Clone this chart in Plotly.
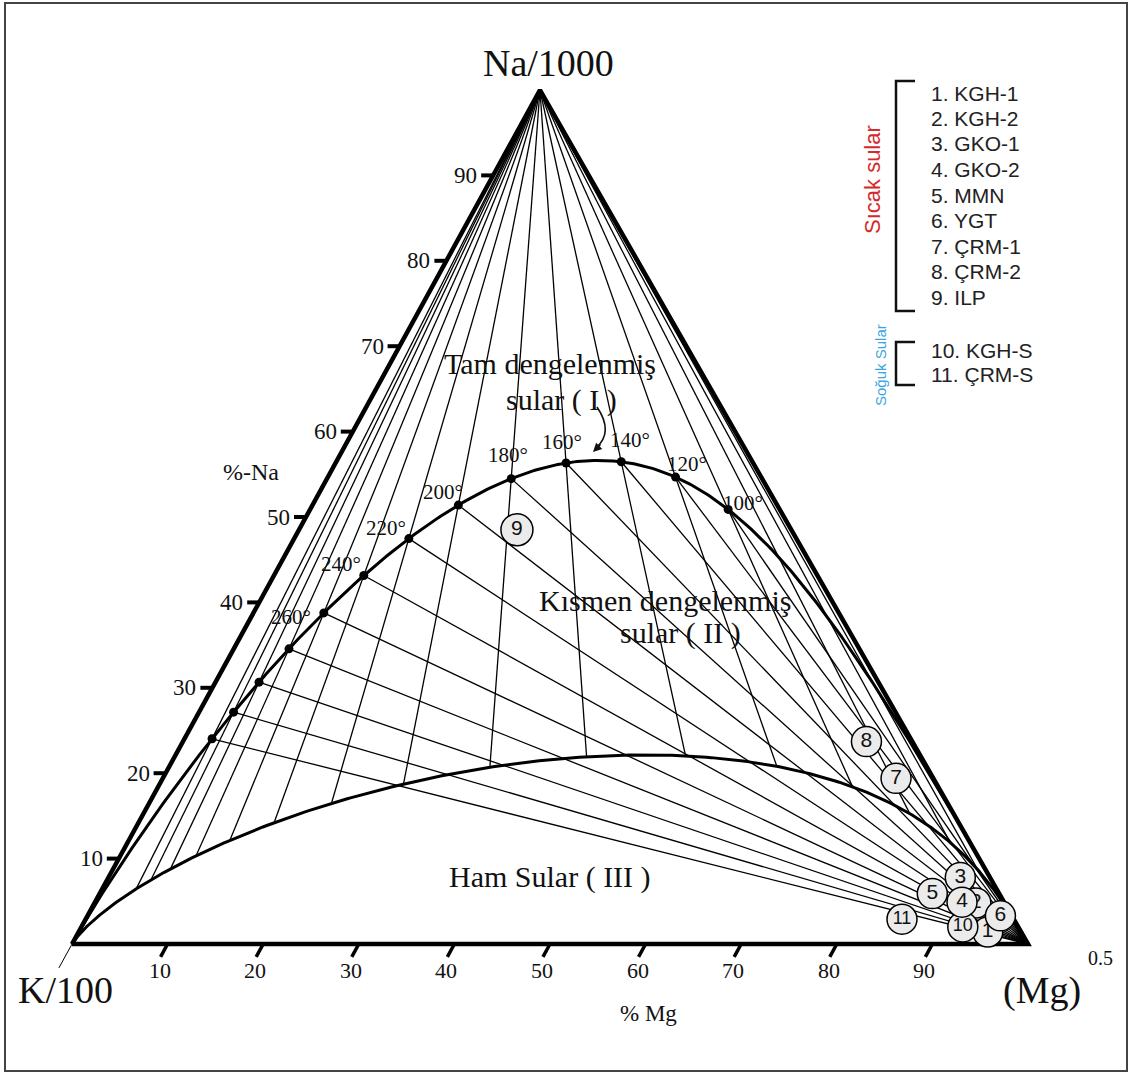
import numpy as np
import plotly.graph_objects as go

W, H = 1131, 1075

# ---------------- data ----------------
eq_temps = [100, 120, 140, 160, 180, 200, 220, 240, 260, 280, 300, 320, 340]
kmg_temps = [40, 60, 80, 100, 120, 140, 160, 180, 200, 220, 240, 260, 280, 300, 320, 340]
label_temps = [100, 120, 140, 160, 180, 200, 220, 240, 260]
label_texts = ["100°", "120°", "140°", "160°", "180°", "200°", "220°", "240°", "260°"]
na_ticks = [10, 20, 30, 40, 50, 60, 70, 80, 90]
mg_ticks = [10, 20, 30, 40, 50, 60, 70, 80, 90]
sample_ids = ["1", "2", "3", "4", "5", "6", "7", "8", "9", "10", "11"]
sample_na = [1.4, 4.8, 7.8, 4.9, 5.9, 3.3, 19.4, 23.7, 48.5, 2.0, 2.9]   # % Na/1000
sample_mg = [95.1, 92.2, 89.1, 90.7, 87.1, 95.5, 76.7, 71.5, 22.8, 92.2, 85.4]  # % Mg^0.5
hot_labels = ["1. KGH-1", "2. KGH-2", "3. GKO-1", "4. GKO-2", "5. MMN",
              "6. YGT", "7. ÇRM-1", "8. ÇRM-2", "9. ILP"]
cold_labels = ["10. KGH-S", "11. ÇRM-S"]

# ---------------- geometry helpers ----------------
APEX = 0.4895          # horizontal position of the Na apex (fraction of base)
SX, SY = 9.56, 8.54    # pixels per axis unit
X0, Y0 = 72, 944       # pixel position of the K corner

SERIF = "Liberation Serif, Times New Roman, serif"
SANS = "Liberation Sans, Arial, sans-serif"


def to_xy(c1, c2, c3):
    s = c1 + c2 + c3
    na = 100.0 * c1 / s
    mg = 100.0 * c3 / s
    return mg + APEX * na, na


def pct_xy(na, mg):
    return mg + APEX * na, na


def full_eq(T):
    TK = T + 273.15
    c1 = 10 ** (1390.0 / TK - 1.75) / 10.0
    c3 = 100.0 / 10 ** ((14.0 - 4410.0 / TK) / 2.0)
    return c1, 1.0, c3


def kmg_r(T):
    TK = T + 273.15
    return 10 ** ((14.0 - 4410.0 / TK) / 2.0) / 100.0


def partial(s):
    return 10 ** (-0.26) * s ** 0.63, 1.0, s


def dx(px):
    return (px - X0) / SX


def dy(py):
    return (Y0 - py) / SY


def pxp(x):
    return x / W


def pyp(y):
    return 1 - y / H


fig = go.Figure()
apex = to_xy(1, 0, 0)
kc = to_xy(0, 1, 0)
mgc = to_xy(0, 0, 1)

# K/Mg isotherms from the Na apex to the partial-equilibrium curve
gx, gy = [], []
for T in kmg_temps:
    e = to_xy(*partial(1.0 / kmg_r(T)))
    gx += [apex[0], e[0], None]
    gy += [apex[1], e[1], None]
# Na/K isotherms from the full-equilibrium point to the Mg corner
for T in eq_temps:
    p = to_xy(*full_eq(T))
    gx += [p[0], mgc[0], None]
    gy += [p[1], mgc[1], None]
fig.add_trace(go.Scatter(x=gx, y=gy, mode="lines", line=dict(color="#000", width=1.3),
                         hoverinfo="skip"))

# partial equilibrium curve
s = np.geomspace(1e-6, 1e6, 900)
px_, py_ = to_xy(*partial(s))
fig.add_trace(go.Scatter(x=np.concatenate([[kc[0]], px_, [mgc[0]]]),
                         y=np.concatenate([[kc[1]], py_, [mgc[1]]]),
                         mode="lines", line=dict(color="#000", width=3), hoverinfo="skip"))

# full equilibrium curve
Tc = np.concatenate([np.linspace(0, 400, 401), np.geomspace(401, 20000, 300)])
fx, fy = to_xy(*full_eq(Tc))
fig.add_trace(go.Scatter(x=np.concatenate([fx, [kc[0]]]), y=np.concatenate([fy, [kc[1]]]),
                         mode="lines", line=dict(color="#000", width=3), hoverinfo="skip"))

# triangle
fig.add_trace(go.Scatter(x=[kc[0], mgc[0], apex[0], kc[0]], y=[kc[1], mgc[1], apex[1], kc[1]],
                         mode="lines", line=dict(color="#000", width=4.5), hoverinfo="skip"))
# thin extension below K corner
fig.add_trace(go.Scatter(x=[kc[0], kc[0] - APEX * 2.8], y=[kc[1], kc[1] - 2.8], mode="lines",
                         line=dict(color="#000", width=1), hoverinfo="skip"))

# ticks
tx, ty = [], []
for v in na_ticks:
    ex, ey = pct_xy(v, 0)
    tx += [ex, ex - 12 / SX, None]
    ty += [ey, ey, None]
fig.add_trace(go.Scatter(x=tx, y=ty, mode="lines", line=dict(color="#000", width=4),
                         hoverinfo="skip"))
tx, ty = [], []
for v in mg_ticks:
    bx, by = pct_xy(0, v)
    tx += [bx, bx - APEX * 1.5, None]
    ty += [by, by - 1.5, None]
fig.add_trace(go.Scatter(x=tx, y=ty, mode="lines", line=dict(color="#000", width=3.5),
                         hoverinfo="skip"))

# equilibrium dots
dxs, dys = [], []
for T in eq_temps:
    p = to_xy(*full_eq(T))
    dxs.append(p[0]); dys.append(p[1])
fig.add_trace(go.Scatter(x=dxs, y=dys, mode="markers", marker=dict(color="#000", size=9),
                         hoverinfo="skip"))

# samples (one trace each so that overlaps stack correctly)
order = ["2", "1", "10", "11", "5", "3", "4", "6", "7", "8", "9"]
for sid in order:
    i = sample_ids.index(sid)
    x, y = pct_xy(sample_na[i], sample_mg[i])
    big = sid == "9"
    fig.add_trace(go.Scatter(
        x=[x], y=[y], mode="markers+text", text=[sid], textposition="middle center",
        textfont=dict(family=SANS, size=18 if len(sid) > 1 else 21, color="#111"),
        marker=dict(size=32 if big else 30, color="#ebebeb", line=dict(color="#000", width=1.5)),
        hoverinfo="skip"))

ann = []


def A(text, x, y, size, family=SERIF, color="#111", xanchor="center", **kw):
    ann.append(dict(text=text, x=pxp(x), y=pyp(y), xref="paper", yref="paper",
                    showarrow=False, xanchor=xanchor, yanchor="middle",
                    font=dict(family=family, size=size, color=color), **kw))


# temperature labels (offsets from their dots, pixels)
lab_off = [(15, -6), (11, -13), (9, -22), (-4, -21), (-3, -24), (-15, -13), (-23, -11),
           (-23, -12), (-33, 4)]
for T, t, (ox, oy) in zip(label_temps, label_texts, lab_off):
    p = to_xy(*full_eq(T))
    ann.append(dict(text=t, x=p[0], y=p[1], xref="x", yref="y", showarrow=False,
                    xshift=ox, yshift=-oy, font=dict(family=SERIF, size=21, color="#111")))

# axis tick labels
for v in na_ticks:
    ex, ey = pct_xy(v, 0)
    ann.append(dict(text=str(v), x=ex, y=ey, xref="x", yref="y", showarrow=False,
                    xanchor="right", xshift=-14, font=dict(family=SERIF, size=23, color="#111")))
for v in mg_ticks:
    bx, by = pct_xy(0, v)
    ann.append(dict(text=str(v), x=bx, y=by, xref="x", yref="y", showarrow=False,
                    xshift=-8, yshift=-26, font=dict(family=SERIF, size=22, color="#111")))

# titles
A("Na/1000", 548, 63, 38)
A("K/100", 65, 990, 38)
A("(Mg)", 1042, 990, 38)
A("0.5", 1100, 958, 20)
A("% Mg", 649, 1013, 23)
A("%-Na", 251, 472, 24)

# region labels
A("Tam dengelenmiş", 550, 363, 30)
A("sular ( I )", 561, 400, 30)
A("Kısmen dengelenmiş", 665, 600, 30)
A("sular ( II )", 680, 633, 30)
A("Ham Sular ( III )", 550, 877, 30)

# legend
for k, t in enumerate(hot_labels):
    A(t, 929, 93 + 25.5 * k, 21, family=SANS, color="#222", xanchor="left")
for k, t in enumerate(cold_labels):
    A(t, 929, 350 + 25 * k, 21, family=SANS, color="#222", xanchor="left")
A("Sıcak sular", 873, 180, 22, family=SANS, color="#d42a2a", textangle=-90)
A("Soğuk Sular", 880, 365, 15, family=SANS, color="#3aa6e0", textangle=-90)

# curved arrow head
ann.append(dict(text="", x=dx(593), y=dy(452), xref="x", yref="y", showarrow=True,
                ax=9, ay=-9, arrowhead=2, arrowsize=1.1, arrowwidth=1.6, arrowcolor="#111",
                standoff=0))

shapes = [
    dict(type="rect", xref="paper", yref="paper", x0=pxp(5), y0=pyp(3), x1=pxp(1127),
         y1=pyp(1071), line=dict(color="#444", width=2)),
    dict(type="path", xref="paper", yref="paper",
         path=f"M {pxp(915)},{pyp(81)} L {pxp(896)},{pyp(81)} L {pxp(896)},{pyp(311)} L {pxp(915)},{pyp(311)}",
         line=dict(color="#111", width=2.5)),
    dict(type="path", xref="paper", yref="paper",
         path=f"M {pxp(915)},{pyp(342)} L {pxp(896)},{pyp(342)} L {pxp(896)},{pyp(385)} L {pxp(915)},{pyp(385)}",
         line=dict(color="#111", width=2.5)),
    dict(type="path", xref="x", yref="y",
         path=f"M {dx(597)},{dy(407)} Q {dx(614)},{dy(432)} {dx(596)},{dy(448)}",
         line=dict(color="#111", width=1.6)),
]

fig.update_layout(
    width=W, height=H, margin=dict(l=0, r=0, t=0, b=0),
    paper_bgcolor="white", plot_bgcolor="white", showlegend=False, hovermode=False,
    xaxis=dict(range=[-X0 / SX, (W - X0) / SX], visible=False, fixedrange=True),
    yaxis=dict(range=[(Y0 - H) / SY, Y0 / SY], visible=False, fixedrange=True),
    annotations=ann, shapes=shapes,
)

fig.write_html("out.html", config={"displayModeBar": False},
               post_script="document.body.style.margin='0';document.body.style.overflow='hidden';")
